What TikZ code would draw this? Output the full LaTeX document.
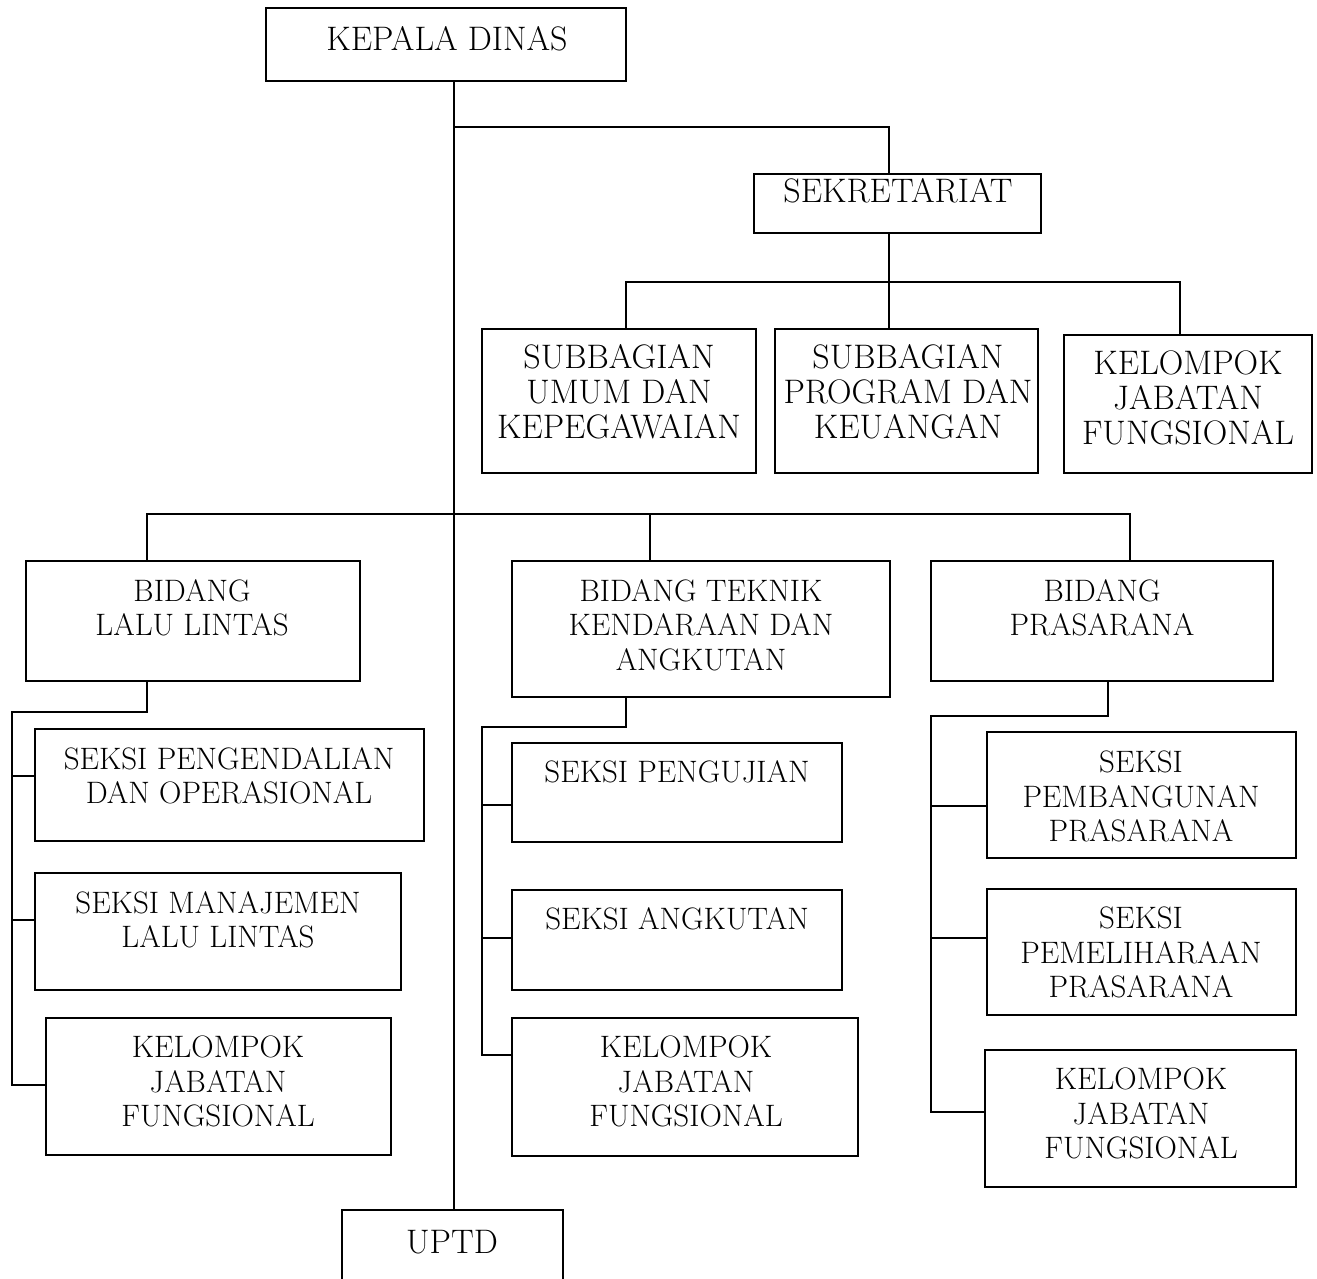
\documentclass[tikz,border=0pt]{standalone}
\usepackage{fontspec}
\begin{document}
\begin{tikzpicture}[x=1pt,y=-1pt,
  box/.style={draw, line width=1.5pt, inner sep=0pt, outer sep=0pt, anchor=north west},
  up/.style={inner sep=0pt, anchor=north, align=center, font=\fontsize{34}{35}\selectfont},
  lo/.style={inner sep=0pt, anchor=north, align=center, font=\fontsize{31}{34.5}\selectfont},
  ln/.style={line width=1.5pt}]
\useasboundingbox (0,0) rectangle (1317,1279);
% boxes
\node[box, minimum width=360pt, minimum height=73pt] (kd) at (266,8) {};
\node[box, minimum width=287pt, minimum height=59pt] (sek) at (754,174) {};
\node[box, minimum width=274pt, minimum height=144pt] (sb1) at (482,329) {};
\node[box, minimum width=263pt, minimum height=144pt] (sb2) at (775,329) {};
\node[box, minimum width=248pt, minimum height=138pt] (kj0) at (1064,335) {};
\node[box, minimum width=334pt, minimum height=120pt] (bl) at (26,561) {};
\node[box, minimum width=378pt, minimum height=136pt] (bt) at (512,561) {};
\node[box, minimum width=342pt, minimum height=120pt] (bp) at (931,561) {};
\node[box, minimum width=389pt, minimum height=112pt] (s1) at (35,729) {};
\node[box, minimum width=366pt, minimum height=117pt] (s2) at (35,873) {};
\node[box, minimum width=345pt, minimum height=137pt] (s3) at (46,1018) {};
\node[box, minimum width=330pt, minimum height=99pt] (t1) at (512,743) {};
\node[box, minimum width=330pt, minimum height=100pt] (t2) at (512,890) {};
\node[box, minimum width=346pt, minimum height=138pt] (t3) at (512,1018) {};
\node[box, minimum width=309pt, minimum height=126pt] (p1) at (987,732) {};
\node[box, minimum width=309pt, minimum height=126pt] (p2) at (987,889) {};
\node[box, minimum width=311pt, minimum height=137pt] (p3) at (985,1050) {};
\node[box, minimum width=221pt, minimum height=90pt] (uptd) at (342,1210) {};
% texts
\node[up] (kdT) at (447,26) {KEPALA DINAS};
\node[up] (sekT) at (898,178) {SEKRETARIAT};
\node[up] (sb1T) at (619,344) {SUBBAGIAN\\UMUM DAN\\KEPEGAWAIAN};
\node[up] (sb2T) at (908,344) {SUBBAGIAN\\PROGRAM DAN\\KEUANGAN};
\node[up] (kj0T) at (1188,351) {KELOMPOK\\JABATAN\\FUNGSIONAL};
\node[lo] (blT) at (192,579) {BIDANG\\LALU LINTAS};
\node[lo] (btT) at (701,579) {BIDANG TEKNIK\\KENDARAAN DAN\\ANGKUTAN};
\node[lo] (bpT) at (1102,579) {BIDANG\\PRASARANA};
\node[lo] (s1T) at (229,747) {SEKSI PENGENDALIAN\\DAN OPERASIONAL};
\node[lo] (s2T) at (218,891) {SEKSI MANAJEMEN\\LALU LINTAS};
\node[lo] (s3T) at (218,1036) {KELOMPOK\\JABATAN\\FUNGSIONAL};
\node[lo] (t1T) at (677,760) {SEKSI PENGUJIAN};
\node[lo] (t2T) at (677,907) {SEKSI ANGKUTAN};
\node[lo] (t3T) at (686,1036) {KELOMPOK\\JABATAN\\FUNGSIONAL};
\node[lo] (p1T) at (1141,751) {SEKSI\\PEMBANGUNAN\\PRASARANA};
\node[lo] (p2T) at (1141,907) {SEKSI\\PEMELIHARAAN\\PRASARANA};
\node[lo] (p3T) at (1141,1068) {KELOMPOK\\JABATAN\\FUNGSIONAL};
\node[up] (uptdT) at (452,1230) {UPTD};
% connector coordinates
\coordinate (sp) at (454,0);
\coordinate (j1) at (454,127);
\coordinate (sekN) at (889,174);
\coordinate (sekS) at (889,233);
\coordinate (h2) at (889,282);
\coordinate (c1) at (626,329);
\coordinate (c2) at (889,329);
\coordinate (c3) at (1180,335);
\coordinate (j2) at (454,514);
\coordinate (b1) at (147,561);
\coordinate (b2) at (650,561);
\coordinate (b3) at (1130,561);
\coordinate (l0) at (147,681);
\coordinate (l1) at (147,712);
\coordinate (la0) at (12,712);
\coordinate (la1) at (12,776);
\coordinate (la2) at (12,920);
\coordinate (la3) at (12,1085);
\coordinate (m0) at (626,697);
\coordinate (m1) at (626,727);
\coordinate (ma0) at (482,727);
\coordinate (ma1) at (482,805);
\coordinate (ma2) at (482,938);
\coordinate (ma3) at (482,1055);
\coordinate (r0) at (1108,681);
\coordinate (r1) at (1108,716);
\coordinate (ra0) at (931,716);
\coordinate (ra1) at (931,806);
\coordinate (ra2) at (931,938);
\coordinate (ra3) at (931,1112);
% connectors
\draw[ln] (kd.south -| sp) -- (uptd.north -| sp);
\draw[ln] (j1) -| (sekN);
\draw[ln] (sekS) -- (c2);
\draw[ln] (c1) -- (c1 |- h2) -- (c3 |- h2) -- (c3);
\draw[ln] (b1) -- (b1 |- j2) -- (b3 |- j2) -- (b3);
\draw[ln] (b2 |- j2) -- (b2);
\draw[ln] (l0) -- (l1) -- (la0) -- (la3) -- (la3 -| s3.west);
\draw[ln] (la1) -- (la1 -| s1.west);
\draw[ln] (la2) -- (la2 -| s2.west);
\draw[ln] (m0) -- (m1) -- (ma0) -- (ma3) -- (ma3 -| t3.west);
\draw[ln] (ma1) -- (ma1 -| t1.west);
\draw[ln] (ma2) -- (ma2 -| t2.west);
\draw[ln] (r0) -- (r1) -- (ra0) -- (ra3) -- (ra3 -| p3.west);
\draw[ln] (ra1) -- (ra1 -| p1.west);
\draw[ln] (ra2) -- (ra2 -| p2.west);
\end{tikzpicture}
\end{document}
